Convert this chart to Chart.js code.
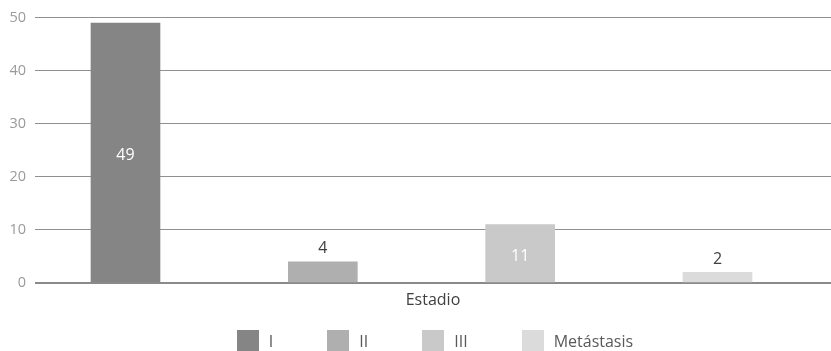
<!DOCTYPE html>
<html><head><meta charset="utf-8">
<script src="https://cdn.jsdelivr.net/npm/chart.js@4/dist/chart.umd.min.js"></script>
<style>
html,body{margin:0;padding:0;background:#fff;}
#wrap{position:relative;width:831px;height:351px;overflow:hidden;}
#legend{position:absolute;left:39px;right:0;top:330px;display:flex;justify-content:center;gap:54px;font-family:'Open Sans',sans-serif;font-size:16px;color:#595959;line-height:22px;white-space:nowrap;}
.item{display:flex;align-items:flex-start;gap:10px;}
.box{width:22px;height:22px;flex:none;}
</style></head>
<body><div id="wrap"><canvas id="c"></canvas><div id="legend"></div></div>
<script>
const categories = ['I', 'II', 'III', 'Metástasis'];
const values = [49, 4, 11, 2];
const xTitle = 'Estadio';
const yTicks = [0, 10, 20, 30, 40, 50];
const colors = ['#858585', '#afafaf', '#c9c9c9', '#dbdbdb'];

const FONT = "'Open Sans', sans-serif";

const valueLabels = {
  id: 'valueLabels',
  afterDatasetsDraw(chart) {
    const ctx = chart.ctx;
    ctx.save();
    ctx.font = "16px 'Open Sans', sans-serif";
    ctx.textAlign = 'center';
    ctx.textBaseline = 'middle';
    chart.data.datasets.forEach((ds, i) => {
      const meta = chart.getDatasetMeta(i);
      meta.data.forEach((bar, j) => {
        const v = ds.data[j].y;
        if (bar.base - bar.y > 40) {
          ctx.fillStyle = '#ffffff';
          ctx.fillText(String(v), bar.x, (bar.y + bar.base) / 2 + 3);
        } else {
          ctx.fillStyle = '#404040';
          ctx.fillText(String(v), bar.x, bar.y - 13);
        }
      });
    });
    ctx.restore();
  }
};

const htmlLegend = {
  id: 'htmlLegend',
  afterUpdate(chart) {
    const el = document.getElementById('legend');
    el.innerHTML = '';
    const items = Chart.defaults.plugins.legend.labels.generateLabels(chart);
    items.forEach(it => {
      const d = document.createElement('div');
      d.className = 'item';
      const b = document.createElement('span');
      b.className = 'box';
      b.style.background = it.fillStyle;
      const t = document.createElement('span');
      t.textContent = it.text;
      d.appendChild(b); d.appendChild(t);
      el.appendChild(d);
    });
  }
};

const datasets = categories.map((name, i) => ({
  label: name,
  data: [{ x: i + 1, y: values[i] }],
  backgroundColor: colors[i],
  borderWidth: 0,
  barThickness: 69,
  grouped: false
}));

new Chart(document.getElementById('c'), {
  type: 'bar',
  data: { datasets },
  options: {
    responsive: true,
    maintainAspectRatio: false,
    animation: false,
    layout: { padding: { top: 15, right: 0, left: 0, bottom: 36.8 } },
    plugins: { legend: { display: false }, tooltip: { enabled: false } },
    scales: {
      x: {
        type: 'linear',
        offset: false,
        min: 0.5414,
        max: 4.5752,
        ticks: { display: false, stepSize: 1, includeBounds: false },
        grid: { display: false, drawTicks: false, offset: false },
        border: { display: false },
        title: { display: true, text: xTitle, color: '#404040', font: { family: FONT, size: 16 }, padding: { top: 8, bottom: 4 } }
      },
      y: {
        min: 0,
        max: 50,
        afterBuildTicks(scale) { scale.ticks = yTicks.map(v => ({ value: v })); },
        afterFit(scale) { scale.width = 35; },
        ticks: { color: '#9a9a9a', font: { family: FONT, size: 14.5 }, padding: 9 },
        grid: {
          drawTicks: false,
          color: (c) => c.tick && c.tick.value === 0 ? '#8a8a8a' : '#909090',
          lineWidth: (c) => c.tick && c.tick.value === 0 ? 2 : 1
        },
        border: { display: false }
      }
    }
  },
  plugins: [valueLabels, htmlLegend]
});
</script>
</body></html>
